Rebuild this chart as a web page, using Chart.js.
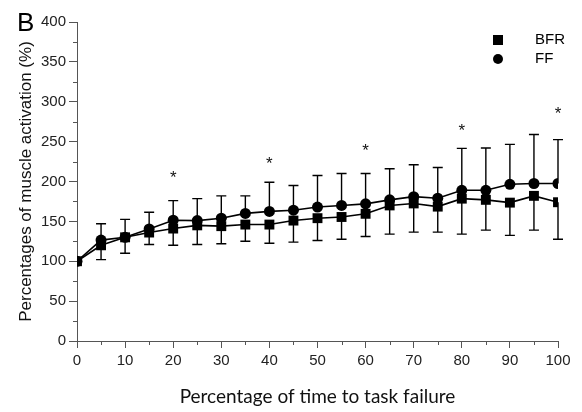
<!DOCTYPE html>
<html>
<head>
<meta charset="utf-8">
<script src="https://cdn.jsdelivr.net/npm/chart.js@4.4.0/dist/chart.umd.min.js"></script>
<style>
  body { margin: 0; background: #fff; }
  #wrap { width: 582px; height: 412px; position: relative; }
</style>
</head>
<body>
<div id="wrap"><canvas id="activationChart"></canvas></div>
<script>
// time points (% of time to task failure)
const timePoints = [0, 5, 10, 15, 20, 25, 30, 35, 40, 45, 50, 55, 60, 65, 70, 75, 80, 85, 90, 95, 100];

// mean muscle activation (%)
const bfrMean = [100, 120, 130, 136, 141, 145, 144, 146, 146, 151, 154, 155.5, 159.5, 170, 172.5, 168.5, 178.5, 177, 173.5, 182, 174];
const ffMean = [100, 126.5, 130, 140.5, 151.5, 151, 154, 160, 162.5, 164, 168, 170, 172, 177, 181, 179, 189, 189, 196.5, 197.5, 197.5];

// SD (BFR drawn downward, FF drawn upward)
const bfrSD = [0, 18, 20, 15, 21, 24, 22, 21, 23.5, 27, 28, 28, 28.5, 36, 36, 32, 44.5, 38, 41, 43, 46.5];
const ffSD = [0, 20.5, 22.5, 21, 24.5, 27.5, 28, 22, 36.5, 31, 39.5, 40, 38, 39, 40, 38.5, 52.5, 53, 50, 61.5, 55];

// significance markers
const starX = [20, 40, 60, 80, 100];
const starY = [211, 228, 244, 270, 291];

const yTicks = { min: 0, max: 400, step: 50 };
const xTicks = { min: 0, max: 100, step: 10 };

const axisColor = "#555";
const tickFont = { family: "'Liberation Sans', Arial, sans-serif", size: 15 };

const errorBars = {
  id: "errorBars",
  beforeDatasetsDraw(chart) {
    const ctx = chart.ctx;
    const yScale = chart.scales.y;
    const sets = [
      { idx: 0, sd: bfrSD, dir: -1 },
      { idx: 1, sd: ffSD, dir: 1 },
    ];
    ctx.save();
    ctx.strokeStyle = "#000";
    ctx.lineWidth = 1.4;
    sets.forEach((s) => {
      const meta = chart.getDatasetMeta(s.idx);
      const vals = chart.data.datasets[s.idx].data;
      meta.data.forEach((pt, i) => {
        if (!s.sd[i]) return;
        const yEnd = yScale.getPixelForValue(vals[i].y + s.dir * s.sd[i]);
        ctx.beginPath();
        ctx.moveTo(pt.x, pt.y);
        ctx.lineTo(pt.x, yEnd);
        ctx.moveTo(pt.x - 5, yEnd);
        ctx.lineTo(pt.x + 5, yEnd);
        ctx.stroke();
      });
    });
    ctx.restore();
  },
};

const extras = {
  id: "extras",
  afterDraw(chart) {
    const ctx = chart.ctx;
    const xs = chart.scales.x;
    const ys = chart.scales.y;
    ctx.save();
    // minor ticks
    ctx.strokeStyle = axisColor;
    ctx.lineWidth = 1;
    ctx.beginPath();
    for (let v = 5; v < 100; v += 10) {
      const px = Math.round(xs.getPixelForValue(v)) + 0.5;
      ctx.moveTo(px, ys.bottom);
      ctx.lineTo(px, ys.bottom + 4);
    }
    for (let v = 25; v < 400; v += 50) {
      const py = Math.round(ys.getPixelForValue(v)) + 0.5;
      ctx.moveTo(xs.left - 4, py);
      ctx.lineTo(xs.left, py);
    }
    ctx.stroke();

    // asterisks
    ctx.fillStyle = "#111";
    ctx.font = "17px 'Liberation Sans', Arial, sans-serif";
    ctx.textAlign = "center";
    ctx.textBaseline = "alphabetic";
    starX.forEach((x, i) => {
      ctx.fillText("*", xs.getPixelForValue(x), ys.getPixelForValue(starY[i]) + 10);
    });

    // panel letter
    ctx.fillStyle = "#000";
    ctx.font = "26px 'Liberation Sans', Arial, sans-serif";
    ctx.textAlign = "left";
    ctx.fillText("B", 17, 31);

    // legend
    ctx.font = "15px 'Liberation Sans', Arial, sans-serif";
    ctx.textBaseline = "middle";
    chart.data.datasets.forEach((ds, i) => {
      const ly = 40 + i * 19;
      ctx.fillStyle = "#000";
      if (ds.pointStyle === "rect") {
        ctx.fillRect(493, ly - 5, 10, 10);
      } else {
        ctx.beginPath();
        ctx.arc(498, ly, 5, 0, Math.PI * 2);
        ctx.fill();
      }
      ctx.fillText(ds.label, 535, ly);
    });
    ctx.restore();
  },
};

const toPoints = (arr) => arr.map((v, i) => ({ x: timePoints[i], y: v }));

new Chart(document.getElementById("activationChart"), {
  type: "line",
  data: {
    datasets: [
      {
        label: "BFR",
        data: toPoints(bfrMean),
        borderColor: "#000",
        backgroundColor: "#000",
        borderWidth: 1.6,
        pointStyle: "rect",
        pointRadius: 7,
        pointBorderWidth: 0,
      },
      {
        label: "FF",
        data: toPoints(ffMean),
        borderColor: "#000",
        backgroundColor: "#000",
        borderWidth: 1.6,
        pointStyle: "circle",
        pointRadius: 5.5,
        pointBorderWidth: 0,
      },
    ],
  },
  options: {
    responsive: true,
    maintainAspectRatio: false,
    animation: false,
    layout: { padding: { top: 22, right: 24, left: 0, bottom: 0 } },
    plugins: {
      legend: { display: false },
      tooltip: { enabled: false },
    },
    scales: {
      x: {
        type: "linear",
        min: xTicks.min,
        max: xTicks.max,
        afterFit: (s) => { s.height = 71; },
        ticks: {
          stepSize: xTicks.step,
          color: "#222",
          font: tickFont,
          padding: 4,
          maxRotation: 0,
        },
        grid: { drawOnChartArea: false, tickLength: 7, tickColor: axisColor },
        border: { color: axisColor, width: 1 },
        title: {
          display: true,
          text: "Percentage of time to task failure",
          color: "#111",
          font: { family: "Lato, 'Open Sans', sans-serif", size: 19 },
          padding: { top: 0, bottom: 4 },
        },
      },
      y: {
        min: yTicks.min,
        max: yTicks.max,
        afterFit: (s) => { s.width = 77; },
        ticks: {
          stepSize: yTicks.step,
          color: "#222",
          font: tickFont,
          padding: 3,
        },
        grid: { drawOnChartArea: false, tickLength: 8, tickColor: axisColor },
        border: { color: axisColor, width: 1 },
        title: {
          display: true,
          text: "Percentages of muscle activation (%)",
          color: "#111",
          font: { family: "'Liberation Sans', Arial, sans-serif", size: 17 },
          padding: { top: 16, bottom: 0 },
        },
      },
    },
  },
  plugins: [errorBars, extras],
});
</script>
</body>
</html>
